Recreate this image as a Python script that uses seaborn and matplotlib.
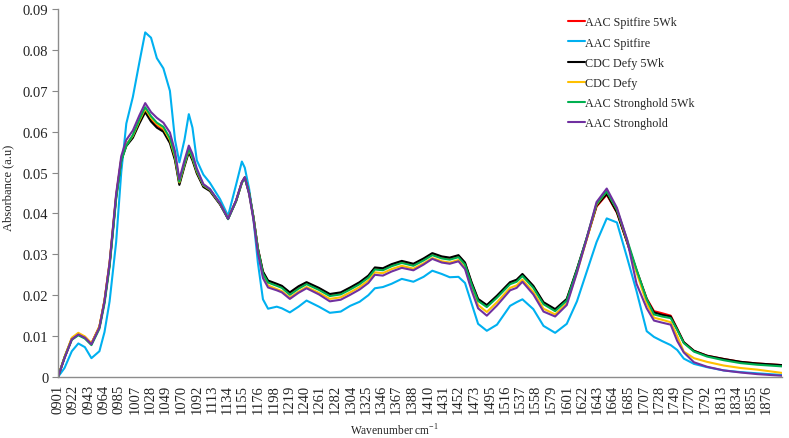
import numpy as np
import pandas as pd
import seaborn as sns
import matplotlib
matplotlib.use("Agg")
import matplotlib.pyplot as plt

sns.set_theme(style="white")
plt.rcParams['font.family'] = ['Liberation Serif', 'DejaVu Serif']
plt.rcParams['mathtext.fontset'] = 'custom'
plt.rcParams['mathtext.rm'] = 'Liberation Serif'

# wavenumber (cm-1) sample points
wn = [901, 910, 920, 929, 938, 947, 958, 965, 972, 981,
      988, 995, 1004, 1013, 1021, 1029, 1037, 1046, 1055, 1062,
      1068, 1075, 1081, 1086, 1092, 1101, 1110, 1124, 1135, 1146,
      1154, 1158, 1164, 1170, 1176, 1183, 1190, 1202, 1209, 1220, 1232,
      1243, 1260, 1275, 1290, 1303, 1316, 1328, 1337, 1348, 1360,
      1374, 1390, 1404, 1416, 1429, 1440, 1452, 1461, 1470, 1479,
      1491, 1505, 1523, 1532, 1540, 1555, 1569, 1585, 1601, 1615,
      1628, 1642, 1656, 1670, 1684, 1697, 1711, 1721, 1732, 1744,
      1753, 1762, 1776, 1794, 1817, 1840, 1863, 1897]

spitfire_5wk = [0.0000, 0.0048, 0.0094, 0.0106, 0.0098, 0.0082, 0.0123, 0.0187, 0.0278, 0.0442,
                0.0532, 0.0568, 0.0590, 0.0625, 0.0653, 0.0631, 0.0616, 0.0605, 0.0577, 0.0535,
                0.0474, 0.0519, 0.0554, 0.0534, 0.0501, 0.0467, 0.0457, 0.0423, 0.0388, 0.0431,
                0.0476, 0.0488, 0.0451, 0.0391, 0.0315, 0.0256, 0.0234, 0.0226, 0.0221, 0.0205, 0.0220,
                0.0230, 0.0216, 0.0201, 0.0205, 0.0217, 0.0230, 0.0246, 0.0266, 0.0264, 0.0274,
                0.0282, 0.0275, 0.0288, 0.0301, 0.0293, 0.0290, 0.0296, 0.0278, 0.0230, 0.0189,
                0.0174, 0.0197, 0.0230, 0.0236, 0.0250, 0.0221, 0.0181, 0.0164, 0.0189, 0.0262,
                0.0335, 0.0417, 0.0446, 0.0402, 0.0330, 0.0261, 0.0192, 0.0161, 0.0156, 0.0150,
                0.0118, 0.0085, 0.0064, 0.0052, 0.0044, 0.0037, 0.0033, 0.0029]

spitfire = [0.0000, 0.0022, 0.0063, 0.0082, 0.0073, 0.0046, 0.0063, 0.0110, 0.0185, 0.0330,
            0.0500, 0.0620, 0.0685, 0.0770, 0.0843, 0.0830, 0.0780, 0.0755, 0.0700, 0.0580,
            0.0525, 0.0580, 0.0643, 0.0610, 0.0530, 0.0495, 0.0475, 0.0435, 0.0394, 0.0470,
            0.0527, 0.0512, 0.0460, 0.0385, 0.0280, 0.0190, 0.0167, 0.0172, 0.0168, 0.0158, 0.0172,
            0.0187, 0.0172, 0.0157, 0.0160, 0.0174, 0.0184, 0.0200, 0.0217, 0.0220, 0.0228,
            0.0240, 0.0233, 0.0245, 0.0260, 0.0252, 0.0244, 0.0245, 0.0230, 0.0180, 0.0130,
            0.0113, 0.0128, 0.0174, 0.0183, 0.0190, 0.0166, 0.0125, 0.0108, 0.0130, 0.0185,
            0.0255, 0.0330, 0.0388, 0.0378, 0.0292, 0.0210, 0.0112, 0.0098, 0.0088, 0.0078,
            0.0066, 0.0045, 0.0032, 0.0024, 0.0016, 0.0012, 0.0009, 0.0005]

defy_5wk = [0.0000, 0.0048, 0.0093, 0.0105, 0.0097, 0.0081, 0.0122, 0.0185, 0.0275, 0.0440,
            0.0530, 0.0565, 0.0585, 0.0620, 0.0648, 0.0625, 0.0610, 0.0600, 0.0572, 0.0530,
            0.0470, 0.0515, 0.0550, 0.0530, 0.0498, 0.0465, 0.0455, 0.0422, 0.0387, 0.0430,
            0.0476, 0.0488, 0.0450, 0.0390, 0.0315, 0.0258, 0.0236, 0.0228, 0.0223, 0.0207, 0.0222,
            0.0232, 0.0218, 0.0203, 0.0207, 0.0219, 0.0232, 0.0248, 0.0268, 0.0266, 0.0276,
            0.0284, 0.0277, 0.0290, 0.0303, 0.0295, 0.0292, 0.0298, 0.0280, 0.0232, 0.0191,
            0.0176, 0.0199, 0.0232, 0.0238, 0.0252, 0.0223, 0.0183, 0.0166, 0.0191, 0.0264,
            0.0337, 0.0419, 0.0448, 0.0403, 0.0330, 0.0260, 0.0190, 0.0158, 0.0152, 0.0148,
            0.0117, 0.0085, 0.0064, 0.0052, 0.0044, 0.0037, 0.0033, 0.0029]

defy = [0.0000, 0.0049, 0.0096, 0.0108, 0.0099, 0.0082, 0.0124, 0.0188, 0.0280, 0.0444,
        0.0533, 0.0568, 0.0590, 0.0627, 0.0656, 0.0634, 0.0619, 0.0608, 0.0580, 0.0538,
        0.0476, 0.0520, 0.0556, 0.0536, 0.0503, 0.0469, 0.0458, 0.0424, 0.0388, 0.0431,
        0.0476, 0.0488, 0.0449, 0.0388, 0.0310, 0.0248, 0.0224, 0.0215, 0.0210, 0.0194, 0.0209,
        0.0220, 0.0206, 0.0191, 0.0195, 0.0207, 0.0220, 0.0236, 0.0256, 0.0254, 0.0264,
        0.0272, 0.0265, 0.0278, 0.0291, 0.0283, 0.0280, 0.0286, 0.0268, 0.0218, 0.0176,
        0.0159, 0.0183, 0.0218, 0.0224, 0.0238, 0.0208, 0.0167, 0.0153, 0.0180, 0.0256,
        0.0334, 0.0422, 0.0455, 0.0410, 0.0333, 0.0256, 0.0180, 0.0145, 0.0140, 0.0134,
        0.0100, 0.0062, 0.0046, 0.0037, 0.0028, 0.0022, 0.0018, 0.0010]

stronghold_5wk = [0.0000, 0.0047, 0.0091, 0.0102, 0.0094, 0.0078, 0.0118, 0.0180, 0.0270, 0.0435,
                  0.0528, 0.0566, 0.0592, 0.0630, 0.0660, 0.0638, 0.0622, 0.0612, 0.0584, 0.0542,
                  0.0478, 0.0522, 0.0558, 0.0538, 0.0505, 0.0470, 0.0459, 0.0424, 0.0386, 0.0430,
                  0.0475, 0.0487, 0.0449, 0.0390, 0.0313, 0.0253, 0.0231, 0.0223, 0.0218, 0.0201, 0.0216,
                  0.0227, 0.0213, 0.0198, 0.0202, 0.0214, 0.0227, 0.0243, 0.0263, 0.0261, 0.0271,
                  0.0279, 0.0272, 0.0285, 0.0298, 0.0290, 0.0287, 0.0293, 0.0275, 0.0227, 0.0186,
                  0.0171, 0.0194, 0.0227, 0.0233, 0.0247, 0.0218, 0.0178, 0.0161, 0.0187, 0.0262,
                  0.0338, 0.0424, 0.0454, 0.0410, 0.0336, 0.0263, 0.0190, 0.0153, 0.0148, 0.0144,
                  0.0115, 0.0083, 0.0062, 0.0050, 0.0041, 0.0034, 0.0030, 0.0026]

stronghold = [0.0000, 0.0046, 0.0092, 0.0104, 0.0096, 0.0080, 0.0121, 0.0186, 0.0280, 0.0448,
              0.0540, 0.0580, 0.0603, 0.0640, 0.0670, 0.0648, 0.0634, 0.0622, 0.0598, 0.0552,
              0.0484, 0.0530, 0.0566, 0.0546, 0.0510, 0.0472, 0.0460, 0.0425, 0.0387, 0.0432,
              0.0477, 0.0489, 0.0447, 0.0384, 0.0304, 0.0242, 0.0219, 0.0212, 0.0207, 0.0191, 0.0206,
              0.0217, 0.0202, 0.0185, 0.0189, 0.0201, 0.0214, 0.0230, 0.0250, 0.0248, 0.0258,
              0.0267, 0.0261, 0.0275, 0.0289, 0.0280, 0.0277, 0.0283, 0.0264, 0.0212, 0.0168,
              0.0150, 0.0175, 0.0212, 0.0218, 0.0233, 0.0202, 0.0160, 0.0148, 0.0176, 0.0255,
              0.0336, 0.0428, 0.0461, 0.0414, 0.0336, 0.0228, 0.0168, 0.0138, 0.0133, 0.0128,
              0.0088, 0.0060, 0.0036, 0.0025, 0.0016, 0.0011, 0.0007, 0.0003]

series = ["AAC Spitfire 5Wk", "AAC Spitfire", "CDC Defy 5Wk", "CDC Defy",
          "AAC Stronghold 5Wk", "AAC Stronghold"]
values = [spitfire_5wk, spitfire, defy_5wk, defy, stronghold_5wk, stronghold]
colors = ["#FF0000", "#00B0F0", "#000000", "#FFC000", "#00B050", "#7030A0"]

tick_labels = ["0901", "0922", "0943", "0964", "0985", "1007", "1028", "1049", "1070",
               "1092", "1113", "1134", "1155", "1176", "1198", "1219", "1240", "1261",
               "1282", "1304", "1325", "1346", "1367", "1388", "1410", "1431", "1452",
               "1473", "1495", "1516", "1537", "1558", "1579", "1601", "1622", "1643",
               "1664", "1685", "1707", "1728", "1749", "1770", "1792", "1813", "1834",
               "1855", "1876"]

df = pd.concat([pd.DataFrame({"wn": wn, "abs": v, "sample": s})
                for s, v in zip(series, values)], ignore_index=True)

fig = plt.figure(figsize=(7.89, 4.39), dpi=100)
ax = fig.add_axes([0.0735, 0.139, 0.9175, 0.838])

sns.lineplot(data=df, x="wn", y="abs", hue="sample", hue_order=series,
             palette=dict(zip(series, colors)), linewidth=1.5, ax=ax,
             sort=False, estimator=None)

ax.set_xlim(901, 1897)
ax.set_ylim(0, 0.09)
ax.set_yticks(np.arange(0, 0.091, 0.01))
ax.set_yticklabels(["0"] + ["%.2f" % t for t in np.arange(0.01, 0.091, 0.01)])
ax.set_xticks([int(t) for t in tick_labels])
ax.set_xticklabels(tick_labels, rotation=90)
ax.tick_params(axis="x", length=0, pad=5, labelsize=10.5, colors="#222222")
ax.tick_params(axis="y", length=4, width=0.8, color="#888888", labelsize=10.5,
               left=True, pad=3, labelcolor="#222222")

for side in ["top", "right"]:
    ax.spines[side].set_visible(False)
ax.spines["left"].set_color("#8c8c8c")
ax.spines["left"].set_linewidth(1.0)
ax.spines["bottom"].set_color("#8c8c8c")
ax.spines["bottom"].set_linewidth(1.0)

ax.set_xlabel("Wavenumber cm$^{-1}$", fontsize=8.3, color="#222222")
ax.xaxis.set_label_coords(0.465, -0.122)
ax.set_ylabel("Absorbance (a.u)", fontsize=9, color="#222222")
ax.yaxis.set_label_coords(-0.061, 0.516)

ax.legend(loc="upper left", bbox_to_anchor=(0.694, 1.0), frameon=False,
          fontsize=8.7, handlelength=1.4, handletextpad=0.05, labelspacing=0.68,
          borderaxespad=0.2)

fig.savefig("out.png", dpi=100)
